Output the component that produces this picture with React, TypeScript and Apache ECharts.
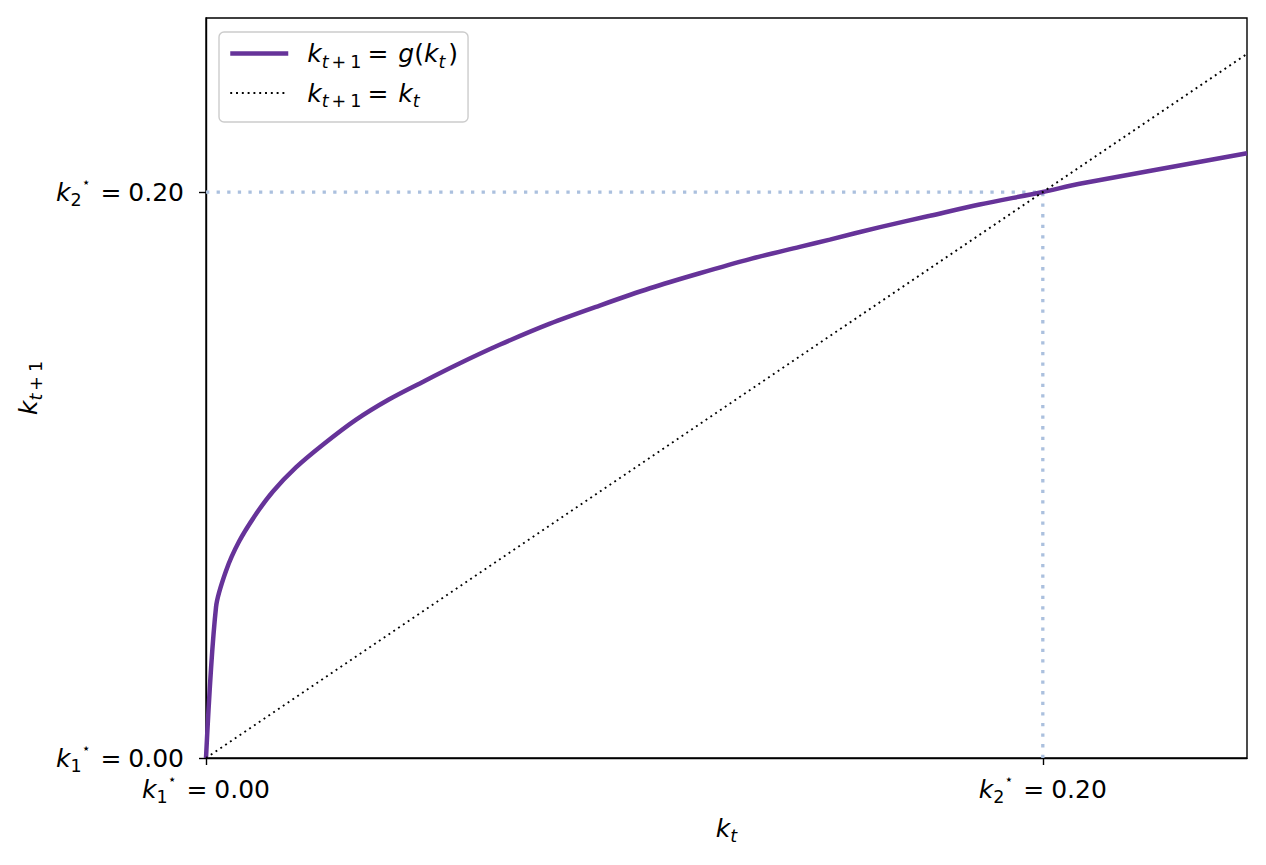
import React, { useEffect, useRef } from 'react';
import * as echarts from 'echarts';

// capital grid k_t and the law of motion g(k_t)
const kValues = [0, 0.0024, 0.0048, 0.0079, 0.012, 0.016, 0.0215, 0.028, 0.0358, 0.0437, 0.0519, 0.0597, 0.0703, 0.0822, 0.0941, 0.1061, 0.118, 0.13, 0.1419, 0.1491, 0.1611, 0.173, 0.1849, 0.2, 0.2088, 0.2488];
const gValues = [0, 0.0534, 0.0662, 0.0765, 0.0863, 0.0942, 0.1027, 0.1108, 0.1195, 0.1267, 0.1330, 0.1388, 0.1461, 0.1535, 0.1599, 0.1660, 0.1713, 0.1763, 0.1806, 0.1832, 0.1876, 0.1916, 0.1956, 0.2, 0.2029, 0.2137];

// 45 degree line
const diagK = [0, 0.2488];

// steady states k1*, k2*
const steadyStates = [0, 0.2];
const steadyIndex = ['1', '2'];

const kMax = 0.2488;
const yMax = 0.2615;

const FONT = 'DejaVu Sans';
const PURPLE = '#663399';
const GUIDE = '#abc0de';

const rich = {
  k: { fontFamily: FONT, fontStyle: 'italic', fontSize: 25, lineHeight: 34, color: '#000' },
  n: { fontFamily: FONT, fontSize: 25, lineHeight: 34, color: '#000' },
  eq: { fontFamily: FONT, fontSize: 25, lineHeight: 34, color: '#000', padding: [0, 10, 0, 6] },
  eq2: { fontFamily: FONT, fontSize: 25, lineHeight: 34, color: '#000', padding: [0, 7, 0, 10] },
  si: { fontFamily: FONT, fontStyle: 'italic', fontSize: 17.5, lineHeight: 18, verticalAlign: 'bottom', color: '#000' },
  se: { fontFamily: FONT, fontStyle: 'italic', fontSize: 17.5, lineHeight: 18, verticalAlign: 'bottom', color: '#000', padding: [0, 3, 0, 0] },
  plus: { fontFamily: FONT, fontSize: 17.5, lineHeight: 18, verticalAlign: 'bottom', color: '#000', padding: [0, 4, 0, 3] },
  sn: { fontFamily: FONT, fontSize: 17.5, lineHeight: 18, verticalAlign: 'bottom', color: '#000' },
  sup: { fontFamily: FONT, fontSize: 14, lineHeight: 18, verticalAlign: 'top', color: '#000' },
  sp: { width: 14, lineHeight: 34 },
};

const legendNames = ['k_{t+1} = g(k_t)', 'k_{t+1} = k_t'];
const legendText: Record<string, string> = {
  [legendNames[0]]: '{sp|}{k|k}{si|t}{plus|+}{sn|1}{eq|=}{k|g}{n|(}{k|k}{se|t}{n|)}',
  [legendNames[1]]: '{sp|}{k|k}{si|t}{plus|+}{sn|1}{eq|=}{k|k}{se|t}',
};

const steadyLabel = (v: number) => {
  const i = steadyStates.findIndex((s) => Math.abs(s - v) < 1e-9);
  if (i < 0) return '';
  return `{k|k}{sn|${steadyIndex[i]}}{sup|⋆}{eq2|=}{n|${v.toFixed(2)}}`;
};

const gLine = { color: PURPLE, width: 4.5 };
const diagLine = { color: '#000', width: 1.9, type: [1.9, 3.9], cap: 'butt' };

const App = () => {
  const chartRef = useRef<HTMLDivElement>(null);

  useEffect(() => {
    if (!chartRef.current) return;
    const chart = echarts.init(chartRef.current, null, { renderer: 'svg' });

    const gData = kValues.map((k, i) => [k, gValues[i]]);
    const diagData = diagK.map((k) => [k, k]);
    const k2 = steadyStates[1];

    const option: any = {
      animation: false,
      backgroundColor: '#fff',
      textStyle: { fontFamily: FONT },
      grid: {
        left: 206,
        right: 19,
        top: 18,
        bottom: 107,
        show: true,
        borderColor: '#000',
        borderWidth: 1.4,
      },
      legend: {
        left: 219,
        top: 32,
        orient: 'vertical',
        data: [
          { name: legendNames[0], lineStyle: { ...gLine } },
          { name: legendNames[1], lineStyle: { ...diagLine } },
        ],
        itemWidth: 58,
        itemHeight: 14,
        itemGap: 10,
        padding: [9, 10, 12, 9],
        backgroundColor: 'rgba(255,255,255,0.8)',
        borderColor: '#cccccc',
        borderWidth: 1.4,
        borderRadius: 5,
        selectedMode: false,
        itemStyle: { color: 'transparent', borderWidth: 0, opacity: 0 },
        textStyle: { fontSize: 25, rich },
        formatter: (name: string) => legendText[name],
      },
      xAxis: {
        type: 'value',
        min: 0,
        max: kMax,
        name: '{k|k}{si|t}',
        nameLocation: 'middle',
        nameGap: 53,
        nameTextStyle: { rich },
        splitLine: { show: false },
        axisLine: { show: true, lineStyle: { color: '#000', width: 1.4 } },
        axisTick: { show: true, length: 7, lineStyle: { color: '#000', width: 1.4 }, customValues: steadyStates },
        axisLabel: {
          customValues: steadyStates,
          margin: 14,
          formatter: steadyLabel,
          rich,
        },
      },
      yAxis: {
        type: 'value',
        min: 0,
        max: yMax,
        name: '{k|k}{si|t}{plus|+}{sn|1}',
        nameLocation: 'middle',
        nameRotate: 90,
        nameGap: 159,
        nameTextStyle: { rich },
        splitLine: { show: false },
        axisLine: { show: true, lineStyle: { color: '#000', width: 1.4 } },
        axisTick: { show: true, length: 7, lineStyle: { color: '#000', width: 1.4 }, customValues: steadyStates },
        axisLabel: {
          customValues: steadyStates,
          margin: 22,
          formatter: steadyLabel,
          rich,
        },
      },
      series: [
        {
          name: 'guideH',
          type: 'line',
          data: [[0, k2], [k2, k2]],
          symbol: 'none',
          lineStyle: { color: GUIDE, width: 3.3, type: [3.3, 7.3], cap: 'butt' },
          silent: true,
        },
        {
          name: 'guideV',
          type: 'line',
          data: [[k2, 0], [k2, k2]],
          symbol: 'none',
          lineStyle: { color: GUIDE, width: 3.3, type: [3.3, 7.3], cap: 'butt' },
          silent: true,
        },
        {
          name: legendNames[0],
          type: 'line',
          data: gData,
          symbol: 'none',
          showSymbol: false,
          smooth: 0.3,
          itemStyle: { color: PURPLE },
          lineStyle: gLine,
        },
        {
          name: legendNames[1],
          type: 'line',
          data: diagData,
          symbol: 'none',
          showSymbol: false,
          itemStyle: { color: '#000' },
          lineStyle: diagLine,
        },
      ],
    };

    chart.setOption(option);
    return () => {
      chart.dispose();
    };
  }, []);

  return (
    <div
      ref={chartRef}
      style={{ position: 'absolute', left: 0, top: 0, width: 1266, height: 865 }}
    />
  );
};

export default App;
